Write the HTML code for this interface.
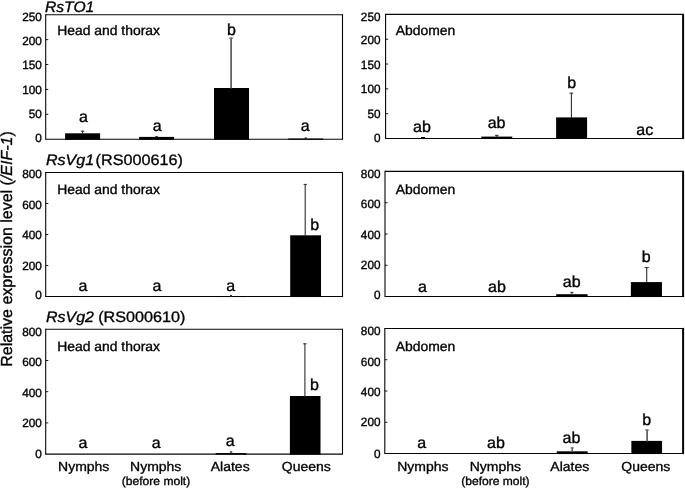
<!DOCTYPE html>
<html lang="en">
<head>
<meta charset="utf-8">
<title>Relative expression level</title>
<style>
html,body{margin:0;padding:0;background:#fff;}
body{width:685px;height:488px;overflow:hidden;}
svg{display:block;font-family:'Liberation Sans', sans-serif;}
</style>
</head>
<body>
<svg width="685" height="488" viewBox="0 0 685 488" text-rendering="geometricPrecision">
<rect x="0" y="0" width="685" height="488" fill="#ffffff"/>
<line x1="45.70" y1="14.15" x2="45.70" y2="139.80" stroke="#050505" stroke-width="1.1"/>
<line x1="45.70" y1="14.70" x2="342.50" y2="14.70" stroke="#050505" stroke-width="1.1"/>
<line x1="45.70" y1="139.25" x2="342.50" y2="139.25" stroke="#050505" stroke-width="1.1"/>
<line x1="342.50" y1="14.15" x2="342.50" y2="139.80" stroke="#050505" stroke-width="1.1"/>
<text transform="translate(41.90,141.70) scale(0.98,1)" font-size="12.0" text-anchor="end" fill="#000" stroke="#000" stroke-width="0.357">0</text>
<line x1="45.70" y1="114.34" x2="48.30" y2="114.34" stroke="#050505" stroke-width="0.9"/>
<text transform="translate(41.90,118.03) scale(0.98,1)" font-size="12.0" text-anchor="end" fill="#000" stroke="#000" stroke-width="0.357">50</text>
<line x1="45.70" y1="89.43" x2="48.30" y2="89.43" stroke="#050505" stroke-width="0.9"/>
<text transform="translate(41.90,93.76) scale(0.98,1)" font-size="12.0" text-anchor="end" fill="#000" stroke="#000" stroke-width="0.357">100</text>
<line x1="45.70" y1="64.52" x2="48.30" y2="64.52" stroke="#050505" stroke-width="0.9"/>
<text transform="translate(41.90,68.94) scale(0.98,1)" font-size="12.0" text-anchor="end" fill="#000" stroke="#000" stroke-width="0.357">150</text>
<line x1="45.70" y1="39.61" x2="48.30" y2="39.61" stroke="#050505" stroke-width="0.9"/>
<text transform="translate(41.90,44.72) scale(0.98,1)" font-size="12.0" text-anchor="end" fill="#000" stroke="#000" stroke-width="0.357">200</text>
<text transform="translate(41.90,20.50) scale(0.98,1)" font-size="12.0" text-anchor="end" fill="#000" stroke="#000" stroke-width="0.357">250</text>
<line x1="385.60" y1="13.85" x2="385.60" y2="139.05" stroke="#050505" stroke-width="1.1"/>
<line x1="385.60" y1="14.40" x2="683.30" y2="14.40" stroke="#050505" stroke-width="1.1"/>
<line x1="385.60" y1="138.50" x2="683.30" y2="138.50" stroke="#050505" stroke-width="1.1"/>
<line x1="683.10" y1="13.85" x2="683.10" y2="139.05" stroke="#050505" stroke-width="2.0"/>
<text transform="translate(380.50,141.80) scale(0.98,1)" font-size="12.0" text-anchor="end" fill="#000" stroke="#000" stroke-width="0.357">0</text>
<line x1="385.60" y1="113.68" x2="388.20" y2="113.68" stroke="#050505" stroke-width="0.9"/>
<text transform="translate(380.50,118.01) scale(0.98,1)" font-size="12.0" text-anchor="end" fill="#000" stroke="#000" stroke-width="0.357">50</text>
<line x1="385.60" y1="88.86" x2="388.20" y2="88.86" stroke="#050505" stroke-width="0.9"/>
<text transform="translate(380.50,93.27) scale(0.98,1)" font-size="12.0" text-anchor="end" fill="#000" stroke="#000" stroke-width="0.357">100</text>
<line x1="385.60" y1="64.04" x2="388.20" y2="64.04" stroke="#050505" stroke-width="0.9"/>
<text transform="translate(380.50,69.08) scale(0.98,1)" font-size="12.0" text-anchor="end" fill="#000" stroke="#000" stroke-width="0.357">150</text>
<line x1="385.60" y1="39.22" x2="388.20" y2="39.22" stroke="#050505" stroke-width="0.9"/>
<text transform="translate(380.50,44.05) scale(0.98,1)" font-size="12.0" text-anchor="end" fill="#000" stroke="#000" stroke-width="0.357">200</text>
<text transform="translate(380.50,20.80) scale(0.98,1)" font-size="12.0" text-anchor="end" fill="#000" stroke="#000" stroke-width="0.357">250</text>
<line x1="45.70" y1="171.90" x2="45.70" y2="297.10" stroke="#050505" stroke-width="1.1"/>
<line x1="45.70" y1="172.45" x2="342.50" y2="172.45" stroke="#050505" stroke-width="1.1"/>
<line x1="45.70" y1="296.55" x2="342.50" y2="296.55" stroke="#050505" stroke-width="1.1"/>
<line x1="342.50" y1="171.90" x2="342.50" y2="297.10" stroke="#050505" stroke-width="1.1"/>
<text transform="translate(41.90,299.15) scale(0.98,1)" font-size="12.0" text-anchor="end" fill="#000" stroke="#000" stroke-width="0.357">0</text>
<line x1="45.70" y1="265.52" x2="48.30" y2="265.52" stroke="#050505" stroke-width="0.9"/>
<text transform="translate(41.90,269.68) scale(0.98,1)" font-size="12.0" text-anchor="end" fill="#000" stroke="#000" stroke-width="0.357">200</text>
<line x1="45.70" y1="234.50" x2="48.30" y2="234.50" stroke="#050505" stroke-width="0.9"/>
<text transform="translate(41.90,239.25) scale(0.98,1)" font-size="12.0" text-anchor="end" fill="#000" stroke="#000" stroke-width="0.357">400</text>
<line x1="45.70" y1="203.47" x2="48.30" y2="203.47" stroke="#050505" stroke-width="0.9"/>
<text transform="translate(41.90,208.58) scale(0.98,1)" font-size="12.0" text-anchor="end" fill="#000" stroke="#000" stroke-width="0.357">600</text>
<text transform="translate(41.90,178.35) scale(0.98,1)" font-size="12.0" text-anchor="end" fill="#000" stroke="#000" stroke-width="0.357">800</text>
<line x1="385.00" y1="170.85" x2="385.00" y2="297.10" stroke="#050505" stroke-width="1.1"/>
<line x1="385.00" y1="171.40" x2="683.30" y2="171.40" stroke="#050505" stroke-width="1.1"/>
<line x1="385.00" y1="296.55" x2="683.30" y2="296.55" stroke="#050505" stroke-width="1.1"/>
<line x1="683.10" y1="170.85" x2="683.10" y2="297.10" stroke="#050505" stroke-width="2.0"/>
<text transform="translate(380.50,299.35) scale(0.98,1)" font-size="12.0" text-anchor="end" fill="#000" stroke="#000" stroke-width="0.357">0</text>
<line x1="385.00" y1="265.26" x2="387.60" y2="265.26" stroke="#050505" stroke-width="0.9"/>
<text transform="translate(380.50,269.00) scale(0.98,1)" font-size="12.0" text-anchor="end" fill="#000" stroke="#000" stroke-width="0.357">200</text>
<line x1="385.00" y1="233.98" x2="387.60" y2="233.98" stroke="#050505" stroke-width="0.9"/>
<text transform="translate(380.50,238.95) scale(0.98,1)" font-size="12.0" text-anchor="end" fill="#000" stroke="#000" stroke-width="0.357">400</text>
<line x1="385.00" y1="202.69" x2="387.60" y2="202.69" stroke="#050505" stroke-width="0.9"/>
<text transform="translate(380.50,208.10) scale(0.98,1)" font-size="12.0" text-anchor="end" fill="#000" stroke="#000" stroke-width="0.357">600</text>
<text transform="translate(380.50,178.10) scale(0.98,1)" font-size="12.0" text-anchor="end" fill="#000" stroke="#000" stroke-width="0.357">800</text>
<line x1="45.70" y1="328.75" x2="45.70" y2="454.65" stroke="#050505" stroke-width="1.1"/>
<line x1="45.70" y1="329.30" x2="342.50" y2="329.30" stroke="#050505" stroke-width="1.1"/>
<line x1="45.70" y1="454.10" x2="342.50" y2="454.10" stroke="#050505" stroke-width="1.1"/>
<line x1="342.50" y1="328.75" x2="342.50" y2="454.65" stroke="#050505" stroke-width="1.1"/>
<text transform="translate(41.90,457.50) scale(0.98,1)" font-size="12.0" text-anchor="end" fill="#000" stroke="#000" stroke-width="0.357">0</text>
<line x1="45.70" y1="422.90" x2="48.30" y2="422.90" stroke="#050505" stroke-width="0.9"/>
<text transform="translate(41.90,427.15) scale(0.98,1)" font-size="12.0" text-anchor="end" fill="#000" stroke="#000" stroke-width="0.357">200</text>
<line x1="45.70" y1="391.70" x2="48.30" y2="391.70" stroke="#050505" stroke-width="0.9"/>
<text transform="translate(41.90,396.65) scale(0.98,1)" font-size="12.0" text-anchor="end" fill="#000" stroke="#000" stroke-width="0.357">400</text>
<line x1="45.70" y1="360.50" x2="48.30" y2="360.50" stroke="#050505" stroke-width="0.9"/>
<text transform="translate(41.90,365.95) scale(0.98,1)" font-size="12.0" text-anchor="end" fill="#000" stroke="#000" stroke-width="0.357">600</text>
<text transform="translate(41.90,335.80) scale(0.98,1)" font-size="12.0" text-anchor="end" fill="#000" stroke="#000" stroke-width="0.357">800</text>
<line x1="384.80" y1="327.90" x2="384.80" y2="454.10" stroke="#050505" stroke-width="1.1"/>
<line x1="384.80" y1="328.45" x2="683.30" y2="328.45" stroke="#050505" stroke-width="1.1"/>
<line x1="384.80" y1="453.55" x2="683.30" y2="453.55" stroke="#050505" stroke-width="1.1"/>
<line x1="683.10" y1="327.90" x2="683.10" y2="454.10" stroke="#050505" stroke-width="2.0"/>
<text transform="translate(380.50,457.75) scale(0.98,1)" font-size="12.0" text-anchor="end" fill="#000" stroke="#000" stroke-width="0.357">0</text>
<line x1="384.80" y1="422.27" x2="387.40" y2="422.27" stroke="#050505" stroke-width="0.9"/>
<text transform="translate(380.50,426.40) scale(0.98,1)" font-size="12.0" text-anchor="end" fill="#000" stroke="#000" stroke-width="0.357">200</text>
<line x1="384.80" y1="391.00" x2="387.40" y2="391.00" stroke="#050505" stroke-width="0.9"/>
<text transform="translate(380.50,396.35) scale(0.98,1)" font-size="12.0" text-anchor="end" fill="#000" stroke="#000" stroke-width="0.357">400</text>
<line x1="384.80" y1="359.73" x2="387.40" y2="359.73" stroke="#050505" stroke-width="0.9"/>
<text transform="translate(380.50,366.45) scale(0.98,1)" font-size="12.0" text-anchor="end" fill="#000" stroke="#000" stroke-width="0.357">600</text>
<text transform="translate(380.50,335.10) scale(0.98,1)" font-size="12.0" text-anchor="end" fill="#000" stroke="#000" stroke-width="0.357">800</text>
<rect x="65.10" y="133.30" width="35.00" height="6.45" fill="#000"/>
<line x1="82.60" y1="130.80" x2="82.60" y2="133.80" stroke="#2e2e2e" stroke-width="1.1"/>
<line x1="80.80" y1="131.20" x2="84.40" y2="131.20" stroke="#2e2e2e" stroke-width="1.0"/>
<rect x="139.10" y="136.90" width="35.00" height="2.85" fill="#000"/>
<line x1="156.60" y1="136.20" x2="156.60" y2="137.40" stroke="#2e2e2e" stroke-width="1.1"/>
<line x1="155.35" y1="136.60" x2="157.85" y2="136.60" stroke="#2e2e2e" stroke-width="1.0"/>
<rect x="214.00" y="88.00" width="35.00" height="51.75" fill="#000"/>
<line x1="231.10" y1="37.70" x2="231.10" y2="88.50" stroke="#5c5c5c" stroke-width="1.7"/>
<line x1="229.00" y1="38.10" x2="233.20" y2="38.10" stroke="#5c5c5c" stroke-width="1.0"/>
<rect x="288.20" y="138.50" width="35.00" height="1.25" fill="#000"/>
<line x1="305.70" y1="137.60" x2="305.70" y2="139.00" stroke="#2e2e2e" stroke-width="1.1"/>
<line x1="304.60" y1="138.00" x2="306.80" y2="138.00" stroke="#2e2e2e" stroke-width="1.0"/>
<text transform="translate(83.50,122.30) scale(1.0,1)" font-size="16" text-anchor="middle" fill="#000" stroke="#000" stroke-width="0.350">a</text>
<text transform="translate(157.20,130.80) scale(1.0,1)" font-size="16" text-anchor="middle" fill="#000" stroke="#000" stroke-width="0.350">a</text>
<text transform="translate(231.50,34.70) scale(1.0,1)" font-size="16" text-anchor="middle" fill="#000" stroke="#000" stroke-width="0.350">b</text>
<text transform="translate(305.30,131.40) scale(1.0,1)" font-size="16" text-anchor="middle" fill="#000" stroke="#000" stroke-width="0.350">a</text>
<rect x="215.60" y="296.60" width="30.80" height="0.45" fill="#000"/>
<line x1="231.00" y1="295.00" x2="231.00" y2="297.10" stroke="#2e2e2e" stroke-width="1.1"/>
<line x1="230.00" y1="295.40" x2="232.00" y2="295.40" stroke="#2e2e2e" stroke-width="1.0"/>
<rect x="290.20" y="235.30" width="30.80" height="61.75" fill="#000"/>
<line x1="305.20" y1="184.00" x2="305.20" y2="235.80" stroke="#2e2e2e" stroke-width="1.1"/>
<line x1="303.60" y1="184.40" x2="306.80" y2="184.40" stroke="#2e2e2e" stroke-width="1.0"/>
<text transform="translate(83.00,290.70) scale(1.0,1)" font-size="16" text-anchor="middle" fill="#000" stroke="#000" stroke-width="0.350">a</text>
<text transform="translate(157.00,290.70) scale(1.0,1)" font-size="16" text-anchor="middle" fill="#000" stroke="#000" stroke-width="0.350">a</text>
<text transform="translate(230.80,290.70) scale(1.0,1)" font-size="16" text-anchor="middle" fill="#000" stroke="#000" stroke-width="0.350">a</text>
<text transform="translate(314.60,229.50) scale(1.0,1)" font-size="16" text-anchor="middle" fill="#000" stroke="#000" stroke-width="0.350">b</text>
<rect x="215.70" y="453.10" width="30.80" height="1.50" fill="#000"/>
<line x1="231.10" y1="451.60" x2="231.10" y2="453.60" stroke="#2e2e2e" stroke-width="1.1"/>
<line x1="229.85" y1="452.00" x2="232.35" y2="452.00" stroke="#2e2e2e" stroke-width="1.0"/>
<rect x="289.90" y="396.00" width="30.60" height="58.60" fill="#000"/>
<line x1="304.90" y1="343.40" x2="304.90" y2="396.50" stroke="#2e2e2e" stroke-width="1.1"/>
<line x1="303.25" y1="343.80" x2="306.55" y2="343.80" stroke="#2e2e2e" stroke-width="1.0"/>
<text transform="translate(82.90,448.00) scale(1.0,1)" font-size="16" text-anchor="middle" fill="#000" stroke="#000" stroke-width="0.350">a</text>
<text transform="translate(156.20,447.70) scale(1.0,1)" font-size="16" text-anchor="middle" fill="#000" stroke="#000" stroke-width="0.350">a</text>
<text transform="translate(230.30,446.10) scale(1.0,1)" font-size="16" text-anchor="middle" fill="#000" stroke="#000" stroke-width="0.350">a</text>
<text transform="translate(314.50,389.60) scale(1.0,1)" font-size="16" text-anchor="middle" fill="#000" stroke="#000" stroke-width="0.350">b</text>
<rect x="421.00" y="137.00" width="4.00" height="2.00" fill="#000"/>
<rect x="481.30" y="136.60" width="31.00" height="2.40" fill="#000"/>
<line x1="496.80" y1="134.90" x2="496.80" y2="137.10" stroke="#2e2e2e" stroke-width="1.1"/>
<line x1="495.00" y1="135.30" x2="498.60" y2="135.30" stroke="#2e2e2e" stroke-width="1.0"/>
<rect x="556.10" y="117.40" width="31.00" height="21.60" fill="#000"/>
<line x1="571.40" y1="92.80" x2="571.40" y2="117.90" stroke="#2e2e2e" stroke-width="1.1"/>
<line x1="569.55" y1="93.20" x2="573.25" y2="93.20" stroke="#2e2e2e" stroke-width="1.0"/>
<text transform="translate(422.00,131.50) scale(1.0,1)" font-size="16" text-anchor="middle" fill="#000" stroke="#000" stroke-width="0.350">ab</text>
<text transform="translate(496.60,128.20) scale(1.0,1)" font-size="16" text-anchor="middle" fill="#000" stroke="#000" stroke-width="0.350">ab</text>
<text transform="translate(571.70,88.00) scale(1.0,1)" font-size="16" text-anchor="middle" fill="#000" stroke="#000" stroke-width="0.350">b</text>
<text transform="translate(644.80,134.60) scale(1.0,1)" font-size="16" text-anchor="middle" fill="#000" stroke="#000" stroke-width="0.350">ac</text>
<rect x="556.20" y="294.20" width="31.40" height="2.85" fill="#000"/>
<line x1="571.90" y1="292.00" x2="571.90" y2="294.70" stroke="#2e2e2e" stroke-width="1.1"/>
<line x1="570.40" y1="292.40" x2="573.40" y2="292.40" stroke="#2e2e2e" stroke-width="1.0"/>
<rect x="630.85" y="282.10" width="31.10" height="14.95" fill="#000"/>
<line x1="646.70" y1="267.20" x2="646.70" y2="282.60" stroke="#2e2e2e" stroke-width="1.1"/>
<line x1="644.60" y1="267.60" x2="648.80" y2="267.60" stroke="#2e2e2e" stroke-width="1.0"/>
<text transform="translate(422.50,291.70) scale(1.0,1)" font-size="16" text-anchor="middle" fill="#000" stroke="#000" stroke-width="0.350">a</text>
<text transform="translate(496.90,291.70) scale(1.0,1)" font-size="16" text-anchor="middle" fill="#000" stroke="#000" stroke-width="0.350">ab</text>
<text transform="translate(571.70,287.40) scale(1.0,1)" font-size="16" text-anchor="middle" fill="#000" stroke="#000" stroke-width="0.350">ab</text>
<text transform="translate(646.20,262.40) scale(1.0,1)" font-size="16" text-anchor="middle" fill="#000" stroke="#000" stroke-width="0.350">b</text>
<rect x="556.75" y="451.30" width="30.90" height="2.75" fill="#000"/>
<line x1="572.20" y1="447.50" x2="572.20" y2="451.80" stroke="#5c5c5c" stroke-width="1.5"/>
<line x1="570.60" y1="447.90" x2="573.80" y2="447.90" stroke="#5c5c5c" stroke-width="1.0"/>
<rect x="631.35" y="440.90" width="30.70" height="13.15" fill="#000"/>
<line x1="647.10" y1="429.60" x2="647.10" y2="441.40" stroke="#5c5c5c" stroke-width="1.7"/>
<line x1="645.20" y1="430.00" x2="649.00" y2="430.00" stroke="#5c5c5c" stroke-width="1.0"/>
<text transform="translate(421.70,447.70) scale(1.0,1)" font-size="16" text-anchor="middle" fill="#000" stroke="#000" stroke-width="0.350">a</text>
<text transform="translate(495.90,448.20) scale(1.0,1)" font-size="16" text-anchor="middle" fill="#000" stroke="#000" stroke-width="0.350">ab</text>
<text transform="translate(571.50,442.70) scale(1.0,1)" font-size="16" text-anchor="middle" fill="#000" stroke="#000" stroke-width="0.350">ab</text>
<text transform="translate(646.80,424.90) scale(1.0,1)" font-size="16" text-anchor="middle" fill="#000" stroke="#000" stroke-width="0.350">b</text>
<text transform="translate(45.00,11.80) scale(1.03,1)" font-size="15.2" text-anchor="start" font-style="italic" fill="#000" stroke="#000" stroke-width="0.340">RsTO1</text>
<text transform="translate(46.00,165.10) scale(1.055,1)" font-size="15.2" text-anchor="start" font-style="italic" fill="#000" stroke="#000" stroke-width="0.332">RsVg1</text>
<text transform="translate(95.60,165.10) scale(1.065,1)" font-size="15.2" text-anchor="start" fill="#000" stroke="#000" stroke-width="0.329">(RS000616)</text>
<text transform="translate(46.00,321.90) scale(1.05,1)" font-size="15.2" text-anchor="start" font-style="italic" fill="#000" stroke="#000" stroke-width="0.333">RsVg2</text>
<text transform="translate(98.20,321.90) scale(1.065,1)" font-size="15.2" text-anchor="start" fill="#000" stroke="#000" stroke-width="0.329">(RS000610)</text>
<text transform="translate(57.20,34.80) scale(1.023,1)" font-size="13.6" text-anchor="start" fill="#000" stroke="#000" stroke-width="0.342">Head and thorax</text>
<text transform="translate(57.20,193.70) scale(1.023,1)" font-size="13.6" text-anchor="start" fill="#000" stroke="#000" stroke-width="0.342">Head and thorax</text>
<text transform="translate(57.20,350.50) scale(1.023,1)" font-size="13.6" text-anchor="start" fill="#000" stroke="#000" stroke-width="0.342">Head and thorax</text>
<text transform="translate(395.70,34.80) scale(1.023,1)" font-size="13.6" text-anchor="start" fill="#000" stroke="#000" stroke-width="0.342">Abdomen</text>
<text transform="translate(395.70,193.90) scale(1.023,1)" font-size="13.6" text-anchor="start" fill="#000" stroke="#000" stroke-width="0.342">Abdomen</text>
<text transform="translate(395.70,350.70) scale(1.023,1)" font-size="13.6" text-anchor="start" fill="#000" stroke="#000" stroke-width="0.342">Abdomen</text>
<text transform="translate(83.70,470.70) scale(1.06,1)" font-size="13.2" text-anchor="middle" fill="#000" stroke="#000" stroke-width="0.330">Nymphs</text>
<text transform="translate(155.70,471.00) scale(1.06,1)" font-size="13.2" text-anchor="middle" fill="#000" stroke="#000" stroke-width="0.330">Nymphs</text>
<text transform="translate(422.90,470.70) scale(1.06,1)" font-size="13.2" text-anchor="middle" fill="#000" stroke="#000" stroke-width="0.330">Nymphs</text>
<text transform="translate(495.30,471.40) scale(1.06,1)" font-size="13.2" text-anchor="middle" fill="#000" stroke="#000" stroke-width="0.330">Nymphs</text>
<text transform="translate(156.00,485.20) scale(1.04,1)" font-size="11.6" text-anchor="middle" fill="#000" stroke="#000" stroke-width="0.337">(before molt)</text>
<text transform="translate(495.40,485.20) scale(1.04,1)" font-size="11.6" text-anchor="middle" fill="#000" stroke="#000" stroke-width="0.337">(before molt)</text>
<text transform="translate(230.20,470.70) scale(1.06,1)" font-size="13.2" text-anchor="middle" fill="#000" stroke="#000" stroke-width="0.330">Alates</text>
<text transform="translate(569.80,470.70) scale(1.06,1)" font-size="13.2" text-anchor="middle" fill="#000" stroke="#000" stroke-width="0.330">Alates</text>
<text transform="translate(306.30,470.70) scale(1.06,1)" font-size="13.2" text-anchor="middle" fill="#000" stroke="#000" stroke-width="0.330">Queens</text>
<text transform="translate(645.80,470.70) scale(1.06,1)" font-size="13.2" text-anchor="middle" fill="#000" stroke="#000" stroke-width="0.330">Queens</text>
<text transform="translate(12.4,249.0) rotate(-90) scale(1.0,1)" font-size="16" text-anchor="middle" fill="#000" stroke="#000" stroke-width="0.35">Relative expression level (<tspan font-style="italic">/EIF-1</tspan>)</text>
</svg>
</body>
</html>
